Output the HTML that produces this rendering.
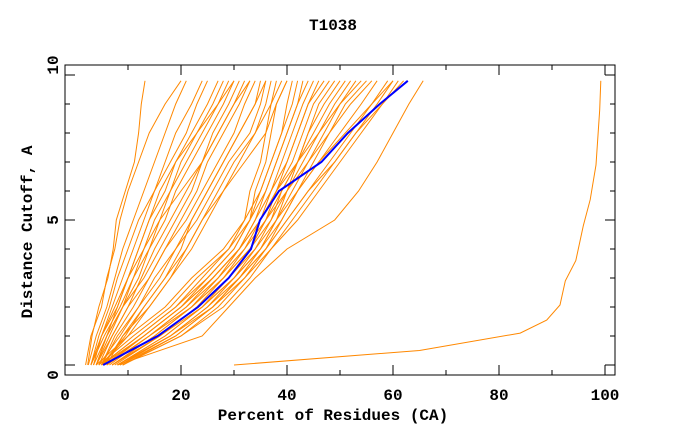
<!DOCTYPE html>
<html><head><meta charset="utf-8"><style>
body{margin:0;background:#fff;}
svg text{font-family:"Liberation Mono",monospace;font-weight:bold;font-size:16px;fill:#000;}
</style></head><body>
<svg id="chart" width="680" height="440" xmlns="http://www.w3.org/2000/svg">
<text x="333" y="30" text-anchor="middle">T1038</text>
<text x="333" y="420" text-anchor="middle">Percent of Residues (CA)</text>
<text x="32" y="232" text-anchor="middle" transform="rotate(-90 32 232)">Distance Cutoff, A</text>
<g id="plot"></g>
<g id="axes"></g>
</svg>
<script>
const cutoffs=[0,1,2,3,4,5,6,7,8,9,9.8];
const xTickLabels=["0","20","40","60","80","100"];
const yTickLabels=["0","5","10"];
const blueModel=[5.3,15.6,23.2,29.0,33.2,34.9,38.5,46.5,51.5,57.5,62.8];
const leftFan=[
[2,3,5,6,7.5,8.5,10,12,14,17,20],[2.5,4,6,7.5,9,11,13,15,17,19,21],[3,4.5,6.5,8,10,12,15,17,19,22,24],
[3,5,7,9,11,13,15,18,21,23,25],[3.5,5,7.5,10,12,14,17,19,22,25,27],[4,6,8,10,13,15,18,20,23,26,28],
[3,5.5,8.5,11,14,16,18,21,24,27,29],[4,6.5,9,12,14,17,19,22,25,28,30],[4.5,7,10,12.5,15,18,21,24,26,29,31],
[3.5,6,9,13,16,19,22,24,27,30,32],[5,7.5,11,14,17,20,23,25,28,31,33],[4,7,10,14,17,21,24,27,30,32,34],
[5,8,12,15,19,22,25,28,31,34,35],[4.5,8.5,12,16,19,23,26,29,33,35,36],[5.5,9,13,17,21,24,28,31,34,36,37],
[5,9.5,13,17,20,22,25,28,31,34,36],[4,6,9,11,13,16,20,24,27,30,33],[3,5,8,10,12,14,16,19,23,27,30],
[6,9,14,18,22,25,28,32,36,38,40],[5,10,14,18,21,24,27,30,34,37,39],
[2.4,3.2,4.5,6.2,7.2,7.8,9.5,11.2,12,12.5,13.2]];
const band=[
[4,10,17,22,28,32,33,35,36,37,38],[4.5,11,18,23,29,33,34,36,37,38,40],[5,12,19,24,29,32,35,37,39,40,41],
[5,12,19,25,30,33,35,37,39,41,42],[5.5,13,20,25,30,33,36,38,40,42,43],[6,13,20,26,31,34,36,38,40,42,44],
[6,14,21,26,31,34,37,39,41,43,45],[6.5,14,21,27,31,35,37,40,42,44,46],[7,15,22,27,32,35,38,40,42,44,47],
[7,15,22,28,32,36,38,41,43,45,48],[7.5,16,23,28,33,36,39,42,44,46,49],[7,16,23,29,33,37,39,42,44,47,50],
[8,17,24,29,34,37,40,42,45,48,51],[8,17,24,30,34,38,40,43,46,49,52],[8.5,18,25,30,35,38,41,44,47,50,53],
[8,18,25,31,35,39,42,45,48,51,55],[8.5,19,26,31,36,39,42,46,50,54,57],[9,19,26,32,36,40,44,48,52,56,59],
[9,20,27,32,37,41,45,49,53,57,60],[9,20,28,33,37,42,46,50,54,58,61],[8,18,26,31,36,40,44,49,53,58,62],
[7,16,24,30,35,38,42,46,51,56,60],[6,14,22,28,33,36,40,44,48,52,56],[5,13,20,26,31,35,38,42,46,50,54],
[8,24,29,34,40,49,53.5,57,60,63,65.7]];
const outlierX=[30,65,84,89,91.5,92.5,94.5,95.9,97.2,98.3,99,99.2];
const outlierD=[0,0.5,1.1,1.55,2.07,2.9,3.6,4.8,5.7,6.9,8.8,9.8];
const NS="http://www.w3.org/2000/svg";
function sx(v){return 75+5.3*v;}
function sy(d){return 365-29*d;}
const plot=document.getElementById('plot');
function drawPts(xs,ds,color,w,name){
  const p=document.createElementNS(NS,'polyline');
  p.setAttribute('points',xs.map((x,i)=>sx(x).toFixed(1)+','+sy(ds[i]).toFixed(1)).join(' '));
  p.setAttribute('fill','none');p.setAttribute('stroke',color);p.setAttribute('stroke-width',w);
  
  
  plot.appendChild(p);
}
leftFan.forEach((s,i)=>drawPts(s,cutoffs,'#ff8800',1,'model-curve-left-'+i));
band.forEach((s,i)=>drawPts(s,cutoffs,'#ff8800',1,'model-curve-band-'+i));
drawPts(outlierX,outlierD,'#ff8800',1,'model-curve-outlier');
drawPts(blueModel,cutoffs,'#0000ff',2,'target-model-curve');
const axes=document.getElementById('axes');
function el(tag,attrs){const e=document.createElementNS(NS,tag);for(const k in attrs)e.setAttribute(k,attrs[k]);axes.appendChild(e);return e;}
const fr=el('rect',{x:65,y:65,width:550,height:310,fill:'none',stroke:'#000','stroke-width':1});


for(let v=10;v<=100;v+=10){
  const x=sx(v),len=(v%20===0)?10:5;
  const t1=el('line',{x1:x,y1:375,x2:x,y2:375-len,stroke:'#000'});
  
  
  const t2=el('line',{x1:x,y1:65,x2:x,y2:65+len,stroke:'#000'});
  
  
}
for(let d=0;d<=10;d++){
  const y=sy(d),len=(d%5===0)?10:5;
  const t1=el('line',{x1:65,y1:y,x2:65+len,y2:y,stroke:'#000'});
  
  
  const t2=el('line',{x1:615,y1:y,x2:615-len,y2:y,stroke:'#000'});
  
  
}
xTickLabels.forEach((lab,i)=>{
  const x=i===0?65:sx(i*20);
  const t=el('text',{x:x,y:400,'text-anchor':'middle'});t.textContent=lab;
  
  
});
yTickLabels.forEach((lab,i)=>{
  const y=[375,220,65][i];
  const t=el('text',{x:0,y:0,'text-anchor':'middle',transform:'translate(53 '+y+') rotate(-90)',dy:'5'});t.textContent=lab;
  
  
});
</script>
</body></html>
